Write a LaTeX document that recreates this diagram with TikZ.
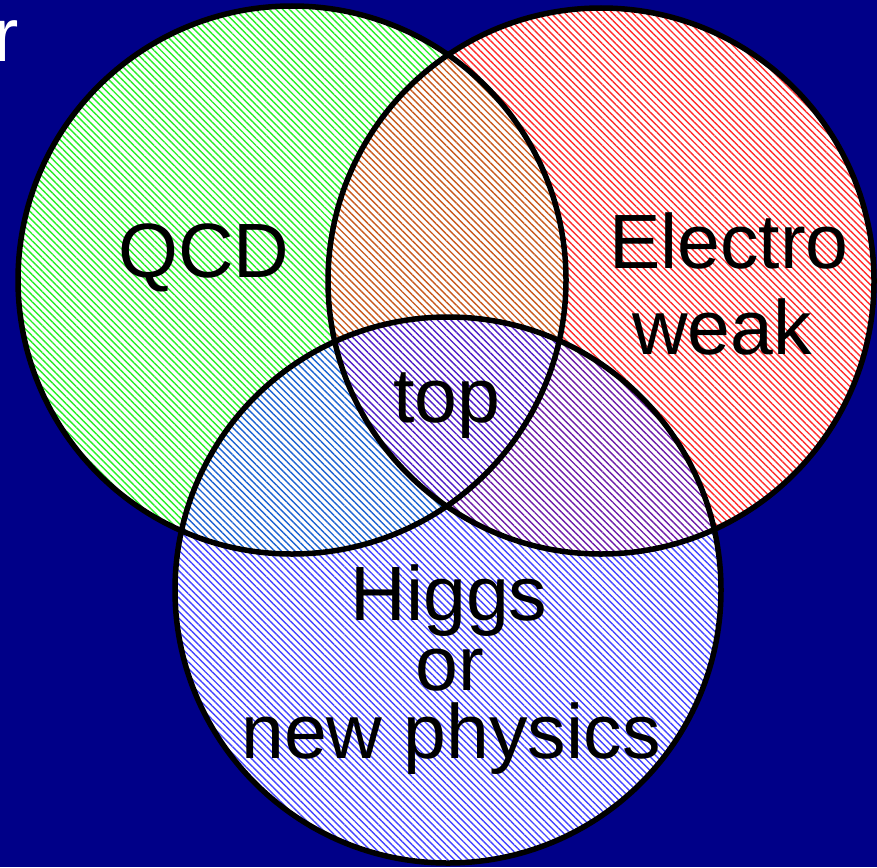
\documentclass[tikz,border=0pt]{standalone}
\usepackage{fontspec}
\setmainfont{Liberation Sans}
\usetikzlibrary{patterns.meta}
\definecolor{navy}{RGB}{0,0,136}
\definecolor{gline}{RGB}{40,240,40}
\definecolor{rline}{RGB}{255,45,45}
\definecolor{bline}{RGB}{70,70,255}
\definecolor{grline}{RGB}{200,90,30}
\definecolor{gbline}{RGB}{30,100,210}
\definecolor{rbline}{RGB}{110,30,170}
\definecolor{allline}{RGB}{80,30,200}
\tikzset{
  hatch/.style={pattern={Lines[angle=-45,distance=4.8pt,line width=1.4pt]},pattern color=#1},
  ring/.style={draw=black,line width=5.5pt},
  label/.style={font=\fontsize{77}{77}\selectfont,text=black,inner sep=0pt,anchor=base},
}
\begin{document}
\begin{tikzpicture}[x=1pt,y=-1pt]
\useasboundingbox (0,0) rectangle (877,867);
\fill[navy] (0,0) rectangle (877,867);
\coordinate (G) at (292,280);
\coordinate (R) at (601,281);
\coordinate (B) at (448,590);
\def\rg{274}\def\rr{273}\def\rb{273}
% white bases with hatching
\fill[white] (G) circle[radius=\rg];
\fill[white] (R) circle[radius=\rr];
\fill[white] (B) circle[radius=\rb];
\fill[hatch=gline] (G) circle[radius=\rg];
\fill[hatch=rline] (R) circle[radius=\rr];
\fill[hatch=bline] (B) circle[radius=\rb];
% overlaps
\begin{scope}
  \clip (G) circle[radius=\rg];
  \fill[white] (R) circle[radius=\rr];
  \fill[hatch=grline] (R) circle[radius=\rr];
\end{scope}
\begin{scope}
  \clip (G) circle[radius=\rg];
  \fill[white] (B) circle[radius=\rb];
  \fill[hatch=gbline] (B) circle[radius=\rb];
\end{scope}
\begin{scope}
  \clip (R) circle[radius=\rr];
  \fill[white] (B) circle[radius=\rb];
  \fill[hatch=rbline] (B) circle[radius=\rb];
\end{scope}
\begin{scope}
  \clip (G) circle[radius=\rg];
  \clip (R) circle[radius=\rr];
  \fill[white] (B) circle[radius=\rb];
  \fill[hatch=allline] (B) circle[radius=\rb];
\end{scope}
% outlines
\draw[ring] (G) circle[radius=\rg];
\draw[ring] (R) circle[radius=\rr];
\draw[ring] (B) circle[radius=\rb];
% labels
\node[label] (qcd) at (204,277) {QCD};
\node[label] (electro) at (729,268) {Electro};
\node[label] (weak) at (722,354) {weak};
\node[label] (top) at (447,422) {top};
\node[label] (higgs) at (449,620) {Higgs};
\node[label] (or) at (450,690) {or};
\node[label] (newphys) at (451,758) {new physics};
\node[font=\fontsize{76}{76}\selectfont,text=white,inner sep=0pt,anchor=base west] (r) at (-7,62) {r};
\end{tikzpicture}
\end{document}
